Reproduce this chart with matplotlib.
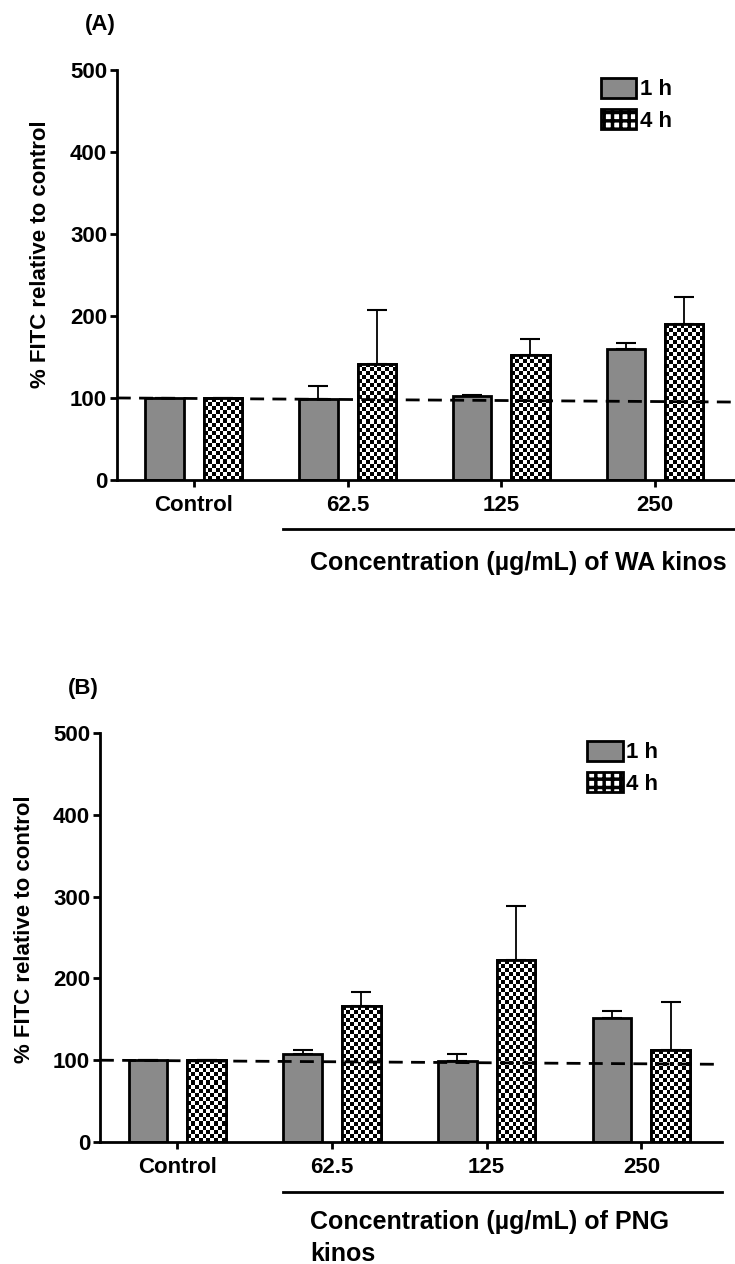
import numpy as np
import matplotlib.pyplot as plt
from matplotlib.patches import Patch

plt.rcParams['font.family'] = ['Liberation Sans', 'DejaVu Sans']
plt.rcParams['font.weight'] = 'bold'
plt.rcParams['axes.labelweight'] = 'bold'
plt.rcParams['hatch.linewidth'] = 2.5

groups = ['Control', '62.5', '125', '250']

# panel A: WA kinos
wa_1h = [100, 99, 102, 160]
wa_1h_err = [0, 15, 1, 7]
wa_4h = [100, 142, 152, 190]
wa_4h_err = [0, 65, 20, 33]

# panel B: PNG kinos
png_1h = [100, 107, 99, 151]
png_1h_err = [0, 5, 9, 9]
png_4h = [100, 166, 222, 112]
png_4h_err = [0, 18, 66, 59]

# dashed reference line (start, end)
baseline = [100, 95]

fig = plt.figure(figsize=(7.35, 12.64), dpi=100)


def checker(ax, bars, cell=4):
    # fill each bar with a black/white checkerboard, clipped to the bar
    fig.canvas.draw()
    for b in bars:
        bb = b.get_window_extent()
        nx = max(int(round(bb.width / cell)), 1)
        ny = max(int(round(bb.height / cell)), 1)
        board = np.indices((ny, nx)).sum(axis=0) % 2
        x0 = b.get_x()
        im = ax.imshow(board, cmap='gray', vmin=0.05, vmax=0.95,
                       extent=(x0, x0 + b.get_width(), 0, b.get_height()),
                       aspect='auto', interpolation='nearest', zorder=2.2)
        im.set_clip_path(b)


def panel(rect, v1, e1, v4, e4, letter, leg_x, lab_x, lab_y):
    ax = fig.add_axes(rect)
    x = np.arange(len(groups))
    w = 0.25
    off = 0.19
    ekw = dict(ecolor='black', elinewidth=1.3, capsize=7.5, capthick=1.5, zorder=1.5)
    ax.bar(x - off, v1, w, color='#8a8a8a', edgecolor='black', linewidth=2,
           yerr=[np.zeros(len(e1)), e1], error_kw=ekw, zorder=2)
    b4 = ax.bar(x + off, v4, w, color='white', edgecolor='black', linewidth=2,
                yerr=[np.zeros(len(e4)), e4], error_kw=ekw, zorder=2)
    ax.plot([-0.5, 3.52], baseline, ls=(0, (5, 3)), color='black', lw=2, zorder=4)
    ax.set_xlim(-0.5, 3.52)
    ax.set_ylim(0, 500)
    checker(ax, b4)
    ax.bar(x + off, v4, w, fill=False, edgecolor='black', linewidth=2, zorder=3)
    ax.set_xlim(-0.5, 3.52)
    ax.set_ylim(0, 500)
    ax.set_yticks([0, 100, 200, 300, 400, 500])
    ax.set_xticks(x)
    ax.set_xticklabels(groups)
    ax.tick_params(axis='both', labelsize=16, width=2, length=5, pad=2)
    ax.tick_params(axis='x', pad=6)
    for s in ['top', 'right']:
        ax.spines[s].set_visible(False)
    for s in ['left', 'bottom']:
        ax.spines[s].set_linewidth(2)
    ax.set_ylabel('% FITC relative to control', fontsize=16)
    ax.yaxis.set_label_coords(lab_x, lab_y)
    handles = [Patch(facecolor='#8a8a8a', edgecolor='black', linewidth=2, label='1 h'),
               Patch(facecolor='white', edgecolor='black', linewidth=2, hatch='++', label='4 h')]
    ax.legend(handles=handles, loc='upper right', bbox_to_anchor=(leg_x, 1.03), frameon=False,
              fontsize=16, handlelength=1.6, handleheight=1.0,
              handletextpad=0.15, labelspacing=0.4)
    ax.text(-0.027, 1.11, letter, transform=ax.transAxes, fontsize=16, ha='center', va='center')
    return ax


panel([0.159, 0.6203, 0.841, 0.3243], wa_1h, wa_1h_err, wa_4h, wa_4h_err, '(A)',
      0.93, -0.107, 0.55)
fig.add_artist(plt.Line2D([283 / 735, 1.0], [1 - 529 / 1264] * 2, color='black', lw=2))
fig.text(310 / 735, 1 - 563 / 1264, 'Concentration (µg/mL) of WA kinos', fontsize=18,
         va='center')

panel([0.136, 0.0965, 0.846, 0.3236], png_1h, png_1h_err, png_4h, png_4h_err, '(B)',
      0.93, -0.105, 0.52)
fig.add_artist(plt.Line2D([283 / 735, 722 / 735], [1 - 1192 / 1264] * 2, color='black', lw=2))
fig.text(310 / 735, 1 - 1222 / 1264, 'Concentration (µg/mL) of PNG', fontsize=18,
         va='center')
fig.text(310 / 735, 1 - 1254 / 1264, 'kinos', fontsize=18, va='center')

fig.savefig('out.png', dpi=100)
